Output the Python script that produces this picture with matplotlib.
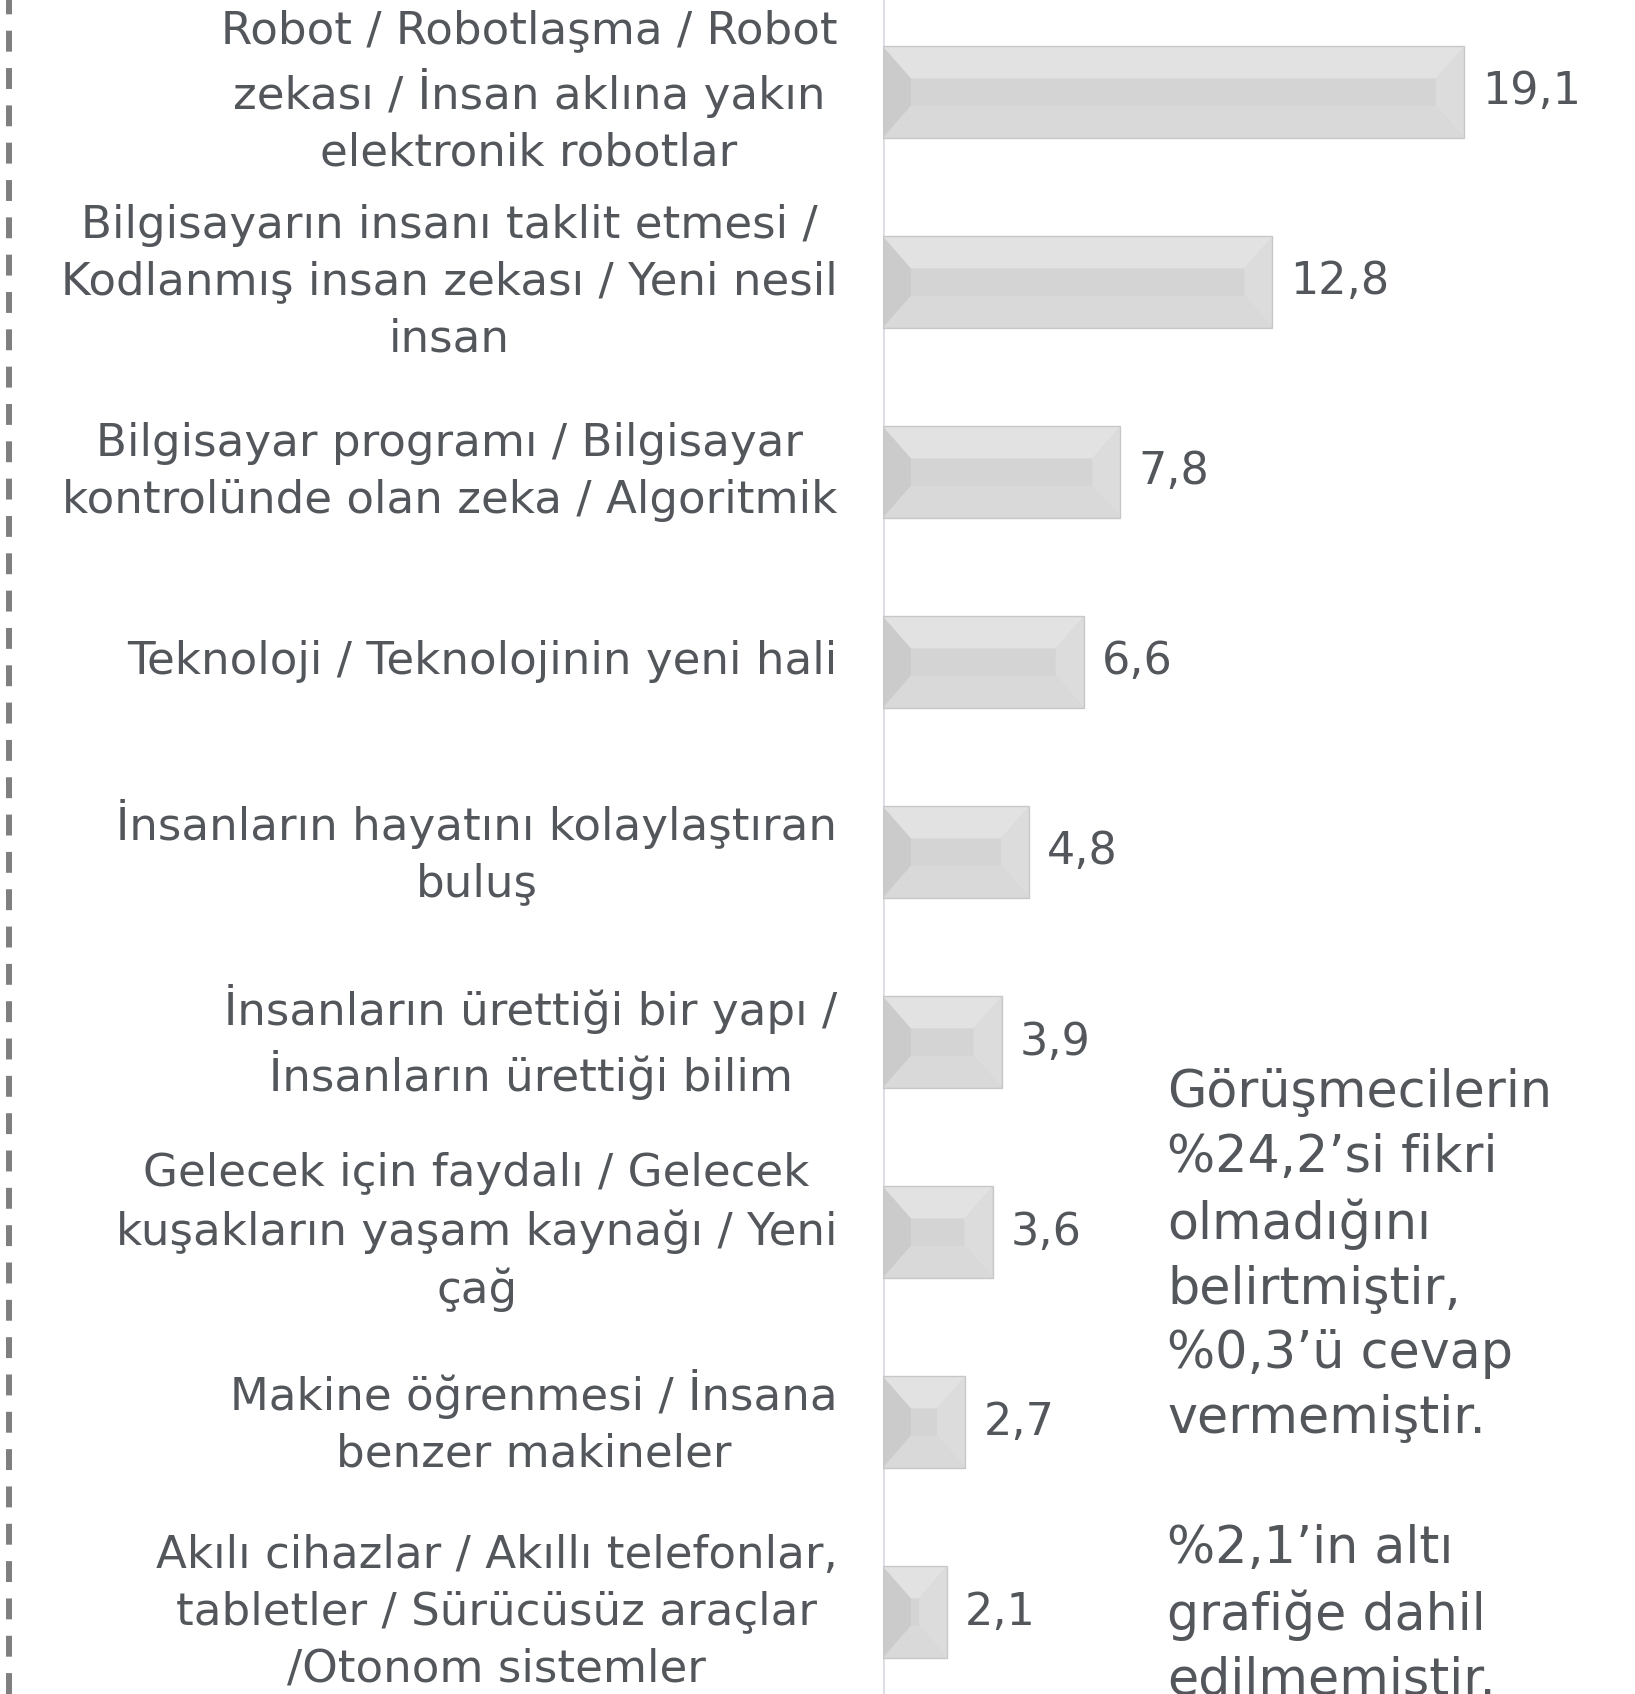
import numpy as np
import matplotlib
matplotlib.use('Agg')
from matplotlib import pyplot as plt
from matplotlib.patches import Polygon
from matplotlib.lines import Line2D

plt.rcParams['font.family'] = ['DejaVu Sans']

# Data
categories = [
    'Robot / Robotlaşma / Robot\nzekası / İnsan aklına yakın\nelektronik robotlar',
    'Bilgisayarın insanı taklit etmesi /\nKodlanmış insan zekası / Yeni nesil\ninsan',
    'Bilgisayar programı / Bilgisayar\nkontrolünde olan zeka / Algoritmik',
    'Teknoloji / Teknolojinin yeni hali',
    'İnsanların hayatını kolaylaştıran\nbuluş',
    'İnsanların ürettiği bir yapı /\nİnsanların ürettiği bilim',
    'Gelecek için faydalı / Gelecek\nkuşakların yaşam kaynağı / Yeni\nçağ',
    'Makine öğrenmesi / İnsana\nbenzer makineler',
    'Akılı cihazlar / Akıllı telefonlar,\ntabletler / Sürücüsüz araçlar\n/Otonom sistemler',
]
values = [19.1, 12.8, 7.8, 6.6, 4.8, 3.9, 3.6, 2.7, 2.1]
note = ('Görüşmecilerin\n%24,2’si fikri\nolmadığını\nbelirtmiştir,\n%0,3’ü cevap\nvermemiştir.\n\n'
        '%2,1’in altı\ngrafiğe dahil\nedilmemiştir.')

W, H = 1635, 1694
text_color = '#53575c'

fig = plt.figure(figsize=(W / 100, H / 100), dpi=100)
fig.patch.set_facecolor('white')

# axes placed so bars land where they are in the original
ax = fig.add_axes([883 / W, -13 / H, 730 / W, 1710 / H])
ax.set_xlim(0, 24)
ax.set_ylim(8.5, -0.5)
ax.axis('off')

# light vertical axis line
ax.axvline(0, color='#dcdce2', lw=2, zorder=1)

bar_h = 0.48
y = np.arange(len(values))
ax.barh(y, values, height=bar_h, color='#d4d4d4', edgecolor='none', zorder=2)

# bevel facets (derived from the bar values)
px_x = 730 / 24
px_y = 190
for i, v in enumerate(values):
    y0, y1 = i - bar_h / 2, i + bar_h / 2
    dx = min(28 / px_x, v / 2)
    dy = 32 / px_y
    facets = [
        ([(0, y0), (dx, y0 + dy), (dx, y1 - dy), (0, y1)], '#cbcbcb'),
        ([(v, y0), (v - dx, y0 + dy), (v - dx, y1 - dy), (v, y1)], '#dcdcdc'),
        ([(0, y0), (v, y0), (v - dx, y0 + dy), (dx, y0 + dy)], '#e2e2e2'),
        ([(0, y1), (v, y1), (v - dx, y1 - dy), (dx, y1 - dy)], '#d9d9d9'),
    ]
    for pts, c in facets:
        ax.add_patch(Polygon(pts, closed=True, facecolor=c, edgecolor='none', zorder=3))
    ax.add_patch(Polygon([(0, y0), (v, y0), (v, y1), (0, y1)], closed=True,
                         facecolor='none', edgecolor='#c8c8c8', lw=1, zorder=4))
    ax.text(v + 0.6, i, f'{v:.1f}'.replace('.', ','), ha='left', va='center',
            fontsize=32, color=text_color)
    ax.text(-1.5, i, categories[i], ha='right', va='center', multialignment='center',
            fontsize=32.5, color=text_color, linespacing=1.4)

# side note
fig.text(1167 / W, 1 - 1068 / H, note, ha='left', va='top', fontsize=36.5,
         color=text_color, linespacing=1.38)

# dashed line on the left edge
fig.add_artist(Line2D([9 / W, 9 / W], [0, 1], transform=fig.transFigure, color='#7f7f7f',
                      lw=4.3, dashes=(3.5, 2.75), solid_capstyle='butt', dash_capstyle='butt'))

plt.savefig('out.png', dpi=100)
plt.close()
